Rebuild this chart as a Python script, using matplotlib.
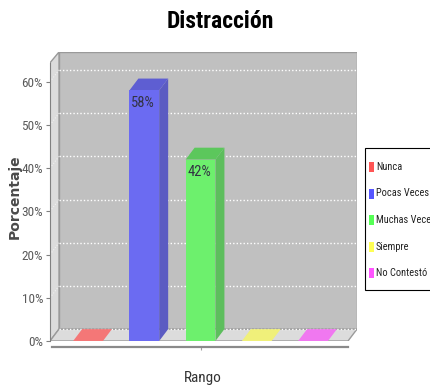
import matplotlib
matplotlib.use("Agg")
import matplotlib.pyplot as plt
from matplotlib import font_manager as fm
from matplotlib.patches import Polygon, Rectangle

# ---- data ----
categories = ["Nunca", "Pocas Veces", "Muchas Veces", "Siempre", "No Contestó"]
values = [0, 58, 42, 0, 0]
value_labels = ["", "58%", "42%", "", ""]
yticks = [0, 10, 20, 30, 40, 50, 60]
ytick_labels = ["0%", "10%", "20%", "30%", "40%", "50%", "60%"]
title = "Distracción"
xlabel = "Rango"
ylabel = "Porcentaje"

# ---- fonts: pick a narrow face if one is installed ----
_fonts = fm.fontManager.ttflist
_names = {f.name for f in _fonts}
NARROW_KW = {"family": ["Liberation Sans", "DejaVu Sans"]}
for cand in ["Liberation Sans Narrow", "Roboto Condensed", "Open Sans Condensed",
             "DejaVu Sans Condensed", "Noto Sans Condensed"]:
    if cand in _names:
        NARROW_KW = {"family": [cand, "DejaVu Sans"]}
        break
else:
    for fam in ["Liberation Sans", "Roboto", "Open Sans", "Noto Sans", "DejaVu Sans"]:
        if any(f.name == fam and f.stretch in ("condensed", "semi-condensed", "extra-condensed")
               for f in _fonts):
            NARROW_KW = {"family": [fam, "DejaVu Sans"], "fontstretch": "condensed"}
            break

# ---- style ----
front_cols = ["#F47777", "#6B6BF2", "#6DF06D", "#F0F07A", "#F078F0"]
side_cols = ["#C25E5E", "#5B5BC2", "#5DBE5D", "#C0C062", "#C060C0"]
top_cols = ["#F47777", "#5E5ED2", "#5CC75C", "#F0F07A", "#F078F0"]
legend_cols = ["#FF5555", "#5555FF", "#55FF55", "#FFFF55", "#FF55FF"]

W, H = 431, 391
fig = plt.figure(figsize=(W / 100, H / 100), dpi=100)
fig.patch.set_facecolor("white")

left_px, right_px, top_px, bot_px = 50, 357, 52, 341
ax = fig.add_axes([left_px / W, (H - bot_px) / H, (right_px - left_px) / W, (bot_px - top_px) / H])
xmin, xmax = -0.676, 4.782
ymin, ymax = 0, 66.9
ax.set_xlim(xmin, xmax)
ax.set_ylim(ymin, ymax)
ax.set_facecolor("none")

dx, dy = 0.16, 2.75
xfront = xmax - dx
yfront = 64.4
bw = 0.53

wall_edge = "#9A9A9A"
ax.add_patch(Rectangle((xmin + dx, dy), xmax - xmin - dx, ymax - dy,
                       facecolor="#C0C0C0", edgecolor=wall_edge, lw=1, zorder=1))
ax.add_patch(Polygon([(xmin, 0), (xmin, yfront), (xmin + dx, ymax), (xmin + dx, dy)],
                     closed=True, facecolor="#DCDCDC", edgecolor=wall_edge, lw=1, zorder=1))
ax.add_patch(Polygon([(xmin, 0), (xfront, 0), (xmax, dy), (xmin + dx, dy)],
                     closed=True, facecolor="#DCDCDC", edgecolor=wall_edge, lw=1, zorder=1))

for t in yticks:
    ax.plot([xmin + dx, xmax - 0.01], [t + dy, t + dy], color="white", lw=1,
            ls=(0, (1, 1.5)), zorder=2)
    if t > 0:
        ax.plot([xmin, xmin + dx], [t, t + dy], color="white", lw=0.8, alpha=0.6,
                ls=(0, (1, 1.5)), zorder=2)

for i, v in enumerate(values):
    x0, x1 = i - bw / 2, i + bw / 2
    if v > 0:
        ax.add_patch(Polygon([(x1, 0), (x1 + dx, dy), (x1 + dx, v + dy), (x1, v)],
                             closed=True, facecolor=side_cols[i], edgecolor="none", zorder=3))
        ax.add_patch(Polygon([(x0, v), (x1, v), (x1 + dx, v + dy), (x0 + dx, v + dy)],
                             closed=True, facecolor=top_cols[i], edgecolor="none", zorder=3))
        ax.add_patch(Rectangle((x0, 0), bw, v, facecolor=front_cols[i], edgecolor="none", zorder=4))
        ax.text(i - 0.02, v - 1.2, value_labels[i], ha="center", va="top", fontsize=10.5,
                color="#333344", zorder=5, **NARROW_KW)
    else:
        ax.add_patch(Polygon([(x0, 0), (x1, 0), (x1 + dx, dy), (x0 + dx, dy)],
                             closed=True, facecolor=front_cols[i], edgecolor="none", zorder=3))

for s in ["top", "right"]:
    ax.spines[s].set_visible(False)
ax.spines["left"].set_bounds(0, yfront)
ax.spines["left"].set_color("#808080")
ax.spines["left"].set_zorder(6)
ax.set_yticks(yticks)
ax.set_yticklabels(ytick_labels, fontsize=9.5, color="#5A5A5A", **NARROW_KW)
ax.tick_params(axis="y", direction="out", length=3, color="#808080", pad=2)

ax.spines["bottom"].set_position(("outward", 4.5))
ax.spines["bottom"].set_bounds(xmin + 0.03, xfront)
ax.spines["bottom"].set_color("#8A8A8A")
ax.spines["bottom"].set_linewidth(1.6)
ax.set_xticks([2])
ax.set_xticklabels([""])
ax.tick_params(axis="x", direction="out", length=2.5, color="#A0A0A0")
ax.set_xlabel(xlabel, fontsize=11, color="#333333", **NARROW_KW)
ax.xaxis.set_label_coords((203 - left_px) / (right_px - left_px), -(378 - bot_px) / (bot_px - top_px))
ax.xaxis.label.set_va("center")
ax.set_ylabel(ylabel, family="DejaVu Sans", fontweight="bold", fontsize=10,
              color="#4A4A4A")
ax.yaxis.set_label_coords((15 - left_px) / (right_px - left_px), (341 - 197) / (bot_px - top_px))
ax.yaxis.label.set_va("center")

fig.text(220 / W, 1 - 22 / H, title, ha="center", va="center", fontsize=17,
         fontweight="bold", color="black", **NARROW_KW)

fig.patches.append(Rectangle((365 / W, 1 - 290 / H), 80 / W, 142 / H, transform=fig.transFigure,
                             facecolor="white", edgecolor="black", lw=0.8))
for k, (lab, col) in enumerate(zip(categories, legend_cols)):
    yc = 167 + k * 26.5
    fig.patches.append(Rectangle((369 / W, 1 - (yc + 5) / H), 5 / W, 10 / H,
                                 transform=fig.transFigure, facecolor=col, edgecolor="none"))
    fig.text(376 / W, 1 - yc / H, lab, ha="left", va="center", fontsize=7.5,
             color="#222222", **NARROW_KW)

fig.savefig("out.png", dpi=100)
